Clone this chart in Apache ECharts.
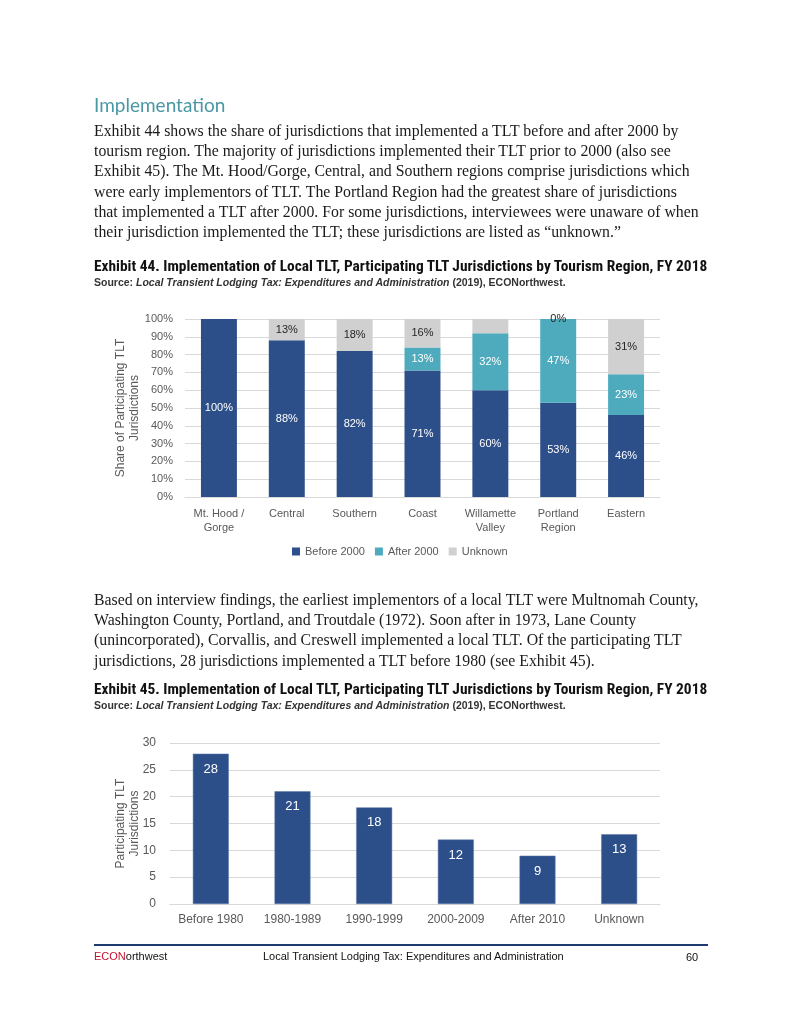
<!DOCTYPE html>
<html><head><meta charset="utf-8">
<script src="https://cdn.jsdelivr.net/npm/echarts@6/dist/echarts.min.js"></script>
<style>
html,body{margin:0;padding:0;background:#fff;width:800px;height:1035px;overflow:hidden;}
#chart{position:absolute;left:0;top:0;width:800px;height:1035px;}
.t{position:absolute;white-space:nowrap;}
.h{left:94px;top:93px;font-family:Lato,"Open Sans",sans-serif;font-size:19px;color:#4a97a5;}
.p{left:94px;font-family:"Liberation Serif","DejaVu Serif",serif;font-size:15.8px;line-height:20.2px;color:#1a1a1a;}
.ex{left:94px;font-family:"Liberation Sans Narrow","Roboto Condensed","Liberation Sans",sans-serif;font-weight:bold;font-size:15.4px;color:#111;}
.src{left:94px;font-family:"Liberation Sans Narrow","Liberation Sans",sans-serif;font-size:10.5px;color:#333;}
.foot{font-family:"Liberation Sans",sans-serif;font-size:11px;color:#111;}
#rule{position:absolute;left:94px;top:944px;width:614px;height:1.5px;background:#1f3a70;}
</style></head>
<body>
<div id="chart"></div>
<div class="t h">Implementation</div>
<div class="t p" style="top:121px">Exhibit 44 shows the share of jurisdictions that implemented a TLT before and after 2000 by<br>tourism region. The majority of jurisdictions implemented their TLT prior to 2000 (also see<br>Exhibit 45). The Mt. Hood/Gorge, Central, and Southern regions comprise jurisdictions which<br>were early implementors of TLT. The Portland Region had the greatest share of jurisdictions<br>that implemented a TLT after 2000. For some jurisdictions, interviewees were unaware of when<br>their jurisdiction implemented the TLT; these jurisdictions are listed as “unknown.”</div>
<div class="t ex" style="top:257px">Exhibit 44. Implementation of Local TLT, Participating TLT Jurisdictions by Tourism Region, FY 2018</div>
<div class="t src" style="top:276px"><b>Source: <i>Local Transient Lodging Tax: Expenditures and Administration</i> (2019), ECONorthwest.</b></div>
<div class="t p" style="top:590px">Based on interview findings, the earliest implementors of a local TLT were Multnomah County,<br>Washington County, Portland, and Troutdale (1972). Soon after in 1973, Lane County<br>(unincorporated), Corvallis, and Creswell implemented a local TLT. Of the participating TLT<br>jurisdictions, 28 jurisdictions implemented a TLT before 1980 (see Exhibit 45).</div>
<div class="t ex" style="top:680px">Exhibit 45. Implementation of Local TLT, Participating TLT Jurisdictions by Tourism Region, FY 2018</div>
<div class="t src" style="top:699px"><b>Source: <i>Local Transient Lodging Tax: Expenditures and Administration</i> (2019), ECONorthwest.</b></div>
<div id="rule"></div>
<div class="t foot" style="left:94px;top:950px"><span style="color:#c8102e">ECON</span>orthwest</div>
<div class="t foot" style="left:263px;top:950px">Local Transient Lodging Tax: Expenditures and Administration</div>
<div class="t foot" style="left:686px;top:951px;font-size:11px">60</div>
<script>
// Exhibit 44 data
const regions = ['Mt. Hood /\nGorge','Central','Southern','Coast','Willamette\nValley','Portland\nRegion','Eastern'];
const before2000 = [100, 88, 82, 71, 60, 53, 46];
const after2000  = [null, null, null, 13, 32, 47, 23];
const unknown    = [null, 13, 18, 16, 8, 0, 31];
const unknownHiddenLabel = [false, false, false, false, true, false, false];
const pctTicks = [0,10,20,30,40,50,60,70,80,90,100];
// Exhibit 45 data
const periods = ['Before 1980','1980-1989','1990-1999','2000-2009','After 2010','Unknown'];
const counts = [28, 21, 18, 12, 9, 13];

const NAVY = '#2c4f8a', TEAL = '#4eabbe', GRAY = '#d0d0d0';
const axisFont = {fontFamily:'"Liberation Sans", Arial, sans-serif', color:'#595959'};

const chart = echarts.init(document.getElementById('chart'), null, {renderer:'canvas'});
const pctLabel = (color) => ({show:true, position:'inside', color:color, fontSize:11, fontFamily:axisFont.fontFamily,
  formatter: p => (p.value === null || p.value === undefined || p.value === '-') ? '' : p.value + '%'});

chart.setOption({
  animation:false,
  legend:{
    data:['Before 2000','After 2000','Unknown'], left:287, top:541,
    itemWidth:8, itemHeight:8, itemGap:10, icon:'rect',
    textStyle:{...axisFont, fontSize:11}
  },
  grid:[
    {left:185, right:140, top:319, bottom:1035-497},
    {left:170, right:140, top:743, bottom:1035-904}
  ],
  xAxis:[
    {type:'category', gridIndex:0, data:regions,
     axisLine:{show:true, lineStyle:{color:'#d9d9d9'}}, axisTick:{show:false},
     axisLabel:{...axisFont, fontSize:11, margin:10, lineHeight:14, interval:0}},
    {type:'category', gridIndex:1, data:periods,
     axisLine:{show:true, lineStyle:{color:'#d9d9d9'}}, axisTick:{show:false},
     axisLabel:{...axisFont, fontSize:12, margin:10, interval:0}}
  ],
  yAxis:[
    {type:'value', gridIndex:0, min:pctTicks[0], max:pctTicks[pctTicks.length-1], interval:10,
     axisLabel:{...axisFont, fontSize:11, formatter:'{value}%', margin:12},
     splitLine:{lineStyle:{color:'#d9d9d9'}},
     name:'Share of Participating TLT\nJurisdictions', nameLocation:'middle', nameGap:43, nameMoveOverlap:false,
     nameTextStyle:{...axisFont, fontSize:12, lineHeight:14}},
    {type:'value', gridIndex:1, min:0, max:30, interval:5,
     axisLabel:{...axisFont, fontSize:12, margin:14},
     splitLine:{lineStyle:{color:'#d9d9d9'}},
     name:'Participating TLT\nJurisdictions', nameLocation:'middle', nameGap:28, nameMoveOverlap:false,
     nameTextStyle:{...axisFont, fontSize:12, lineHeight:14}}
  ],
  series:[
    {name:'Before 2000', type:'bar', stack:'s', xAxisIndex:0, yAxisIndex:0, barWidth:'53%',
     itemStyle:{color:NAVY}, label:pctLabel('#ffffff'), data:before2000},
    {name:'After 2000', type:'bar', stack:'s', xAxisIndex:0, yAxisIndex:0, barWidth:'53%',
     itemStyle:{color:TEAL}, label:pctLabel('#ffffff'), data:after2000},
    {name:'Unknown', type:'bar', stack:'s', xAxisIndex:0, yAxisIndex:0, barWidth:'53%',
     itemStyle:{color:GRAY}, label:pctLabel('#262626'),
     data:unknown.map((v,i)=> unknownHiddenLabel[i] ? {value:v, label:{show:false}} : v)},
    {name:'Count', type:'bar', xAxisIndex:1, yAxisIndex:1, barWidth:'44%',
     itemStyle:{color:NAVY, borderColor:'#5a77aa', borderWidth:0.5},
     label:{show:true, position:'insideTop', distance:9, color:'#ffffff', fontSize:13, fontFamily:axisFont.fontFamily},
     data:counts}
  ]
});
</script>
</body></html>
